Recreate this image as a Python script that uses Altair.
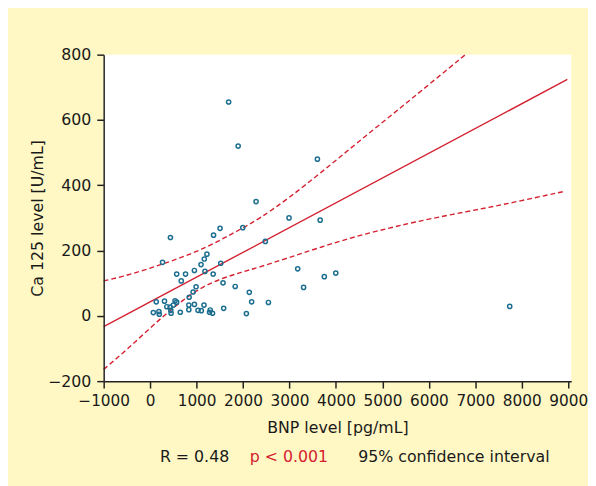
import altair as alt
import pandas as pd

# Scatter data: BNP level [pg/mL] vs Ca 125 level [U/mL]
bnp = [1690, 1895, 3600, 2280, 2990, 3660, 1995, 1505, 1365, 437,
       2480, 1222, 1166, 267, 1520, 1095, 953, 1180, 571, 762,
       1357, 3176, 3996, 3749, 670, 1569, 989, 1831, 3303, 925,
       2135, 840, 132, 309, 536, 571, 500, 359, 430, 444,
       451, 69, 189, 196, 649, 833, 833, 953, 1159, 1031,
       1102, 1293, 1279, 1343, 1583, 2185, 2546, 2072, 7740]
ca125 = [655, 520, 480, 350, 300, 293, 270, 268, 247, 240,
         228, 189, 174, 164, 161, 157, 139, 136, 128, 128,
         128, 144, 131, 120, 107, 101, 89, 90, 87, 73,
         72, 57, 43, 45, 46, 42, 33, 28, 27, 17,
         8, 10, 13, 5, 11, 33, 19, 35, 33, 17,
         16, 18, 11, 8, 23, 43, 41, 7, 29]

# Regression line (read at the ends of the plotted segment)
reg_x = [-1000, 8980]
reg_y = [-33, 724]

# 95% confidence band
upper_x = [-1000, -575, -151, 274, 699, 1100, 1512, 1902, 2361, 2998, 3706, 4414, 5299, 5758, 6785]
upper_y = [107, 121, 139, 159, 180, 203, 232, 262, 298, 362, 442, 525, 627, 680, 800]
lower_x = [-1000, -575, -151, 274, 699, 1123, 1548, 1972, 2327, 2998, 3706, 4414, 5121, 5688, 6400, 7138, 7740, 8908]
lower_y = [-164, -113, -57, -2, 48, 89, 115, 134, 148, 179, 212, 243, 268, 287, 308, 328, 345, 381]

x_ticks = [-1000, 0, 1000, 2000, 3000, 4000, 5000, 6000, 7000, 8000, 9000]
y_ticks = [-200, 0, 200, 400, 600, 800]

notes = ["R = 0.48", "p < 0.001", "95% confidence interval"]
note_colors = ["#1a1a1a", "#d42030", "#1a1a1a"]

FONT = "DejaVu Sans"
RED = "#d42030"
TEAL = "#1c6e8f"

W, H = 474, 331

xscale = alt.Scale(domain=[-1000, 9064], nice=False, zero=False)
yscale = alt.Scale(domain=[-200, 800], nice=False, zero=False)

xaxis = alt.Axis(values=x_ticks, format="d", title="BNP level [pg/mL]", grid=False,
                 tickSize=7, tickWidth=1.5, tickColor="#222222",
                 domainColor="#222222", domainWidth=1.5,
                 labelFont=FONT, labelFontSize=15.5, labelColor="#1a1a1a",
                 labelPadding=6, labelFlush=False, labelOverlap=False,
                 titleFont=FONT, titleFontSize=16, titleFontWeight="normal",
                 titleColor="#1a1a1a", titleX=W / 2, titleY=47,
                 titleBaseline="middle", titleAlign="center", zindex=1)
yaxis = alt.Axis(values=y_ticks, format="d", title="Ca 125 level [U/mL]", grid=False,
                 tickSize=7, tickWidth=1.5, tickColor="#222222",
                 domainColor="#222222", domainWidth=1.5,
                 labelFont=FONT, labelFontSize=16, labelColor="#1a1a1a",
                 labelPadding=6, labelFlush=False, labelOverlap=False,
                 titleFont=FONT, titleFontSize=16, titleFontWeight="normal",
                 titleColor="#1a1a1a", titleX=-67, titleY=H / 2,
                 titleAngle=270, titleBaseline="middle", titleAlign="center",
                 zindex=1)

pts = pd.DataFrame({"bnp": bnp, "ca125": ca125})
reg = pd.DataFrame({"bnp": reg_x, "ca125": reg_y})
up = pd.DataFrame({"bnp": upper_x, "ca125": upper_y})
lo = pd.DataFrame({"bnp": lower_x, "ca125": lower_y})

enc = dict(x=alt.X("bnp:Q", scale=xscale, axis=xaxis),
           y=alt.Y("ca125:Q", scale=yscale, axis=yaxis))

reg_layer = alt.Chart(reg).mark_line(color=RED, strokeWidth=1.4).encode(**enc)
up_layer = alt.Chart(up).mark_line(color=RED, strokeWidth=1.4, strokeDash=[5, 3],
                                   interpolate="basis").encode(**enc)
lo_layer = alt.Chart(lo).mark_line(color=RED, strokeWidth=1.4, strokeDash=[5, 3],
                                   interpolate="basis").encode(**enc)
pt_layer = alt.Chart(pts).mark_point(shape="circle", filled=False, color=TEAL,
                                     size=18, strokeWidth=1.5, opacity=1).encode(**enc)

note_x = [57, 148, 258]
note_layers = []
for t, c, px in zip(notes, note_colors, note_x):
    note_layers.append(
        alt.Chart(pd.DataFrame({"t": [t]})).mark_text(
            font=FONT, fontSize=16, color=c, align="left", baseline="middle",
            clip=False
        ).encode(text="t:N", x=alt.value(px), y=alt.value(408))
    )

chart = alt.layer(reg_layer, up_layer, lo_layer, pt_layer, *note_layers).properties(
    width=W, height=H,
    background="#fff8c4",
    padding={"left": 97, "top": 44, "right": 17, "bottom": 103},
    autosize=alt.AutoSizeParams(type="none"),
).configure_view(fill="white", stroke=None)

chart.save("out.html", embed_options={"renderer": "svg", "actions": False})
